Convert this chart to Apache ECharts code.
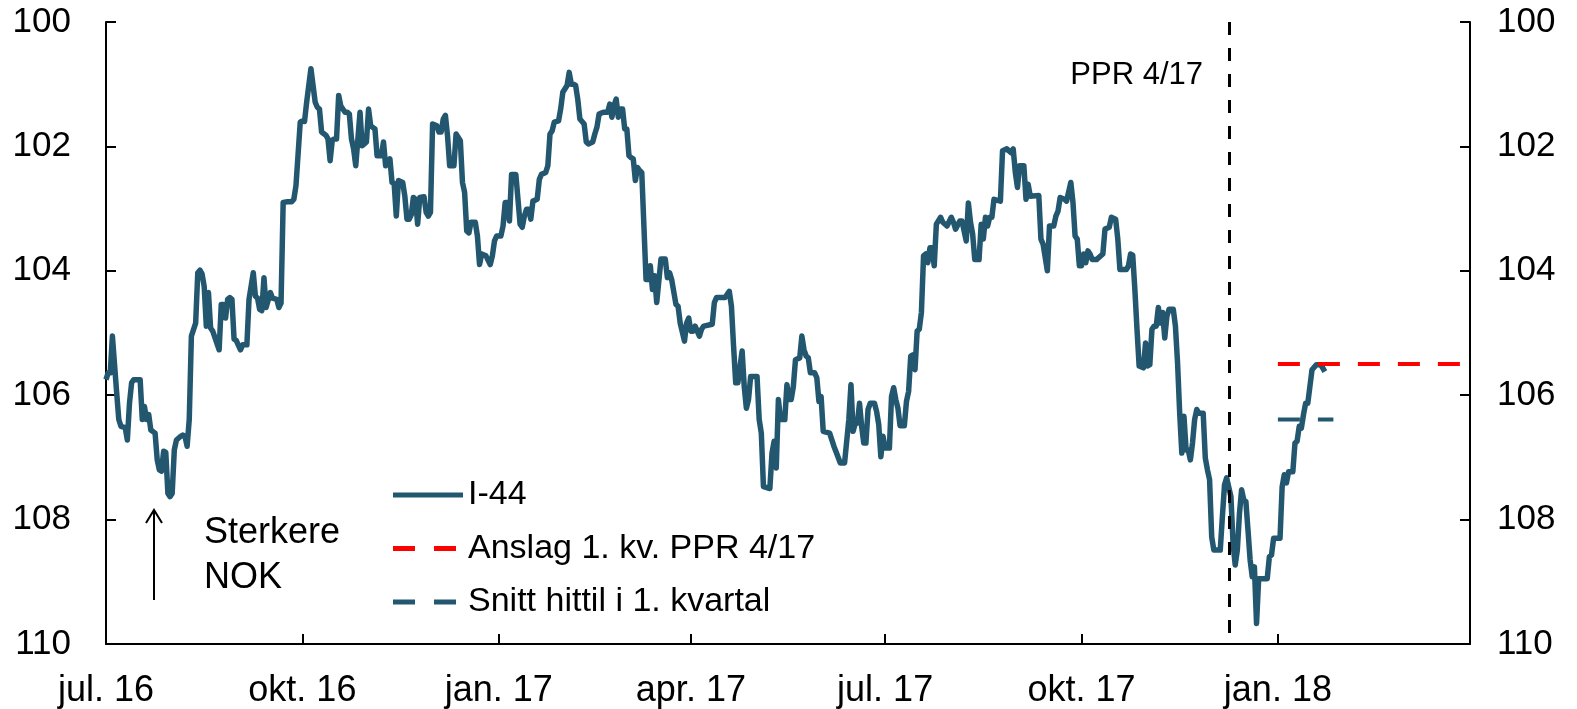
<!DOCTYPE html>
<html>
<head>
<meta charset="utf-8">
<script src="https://cdn.jsdelivr.net/npm/echarts@6/dist/echarts.min.js"></script>
<style>
  html, body { margin: 0; padding: 0; background: #fff; }
  #chart { width: 1577px; height: 709px; }
</style>
</head>
<body>
<div id="chart"></div>
<script>
// I-44 (one row per month)
var i44Months = ['2016-07', '2016-08', '2016-09', '2016-10', '2016-11', '2016-12',
  '2017-01', '2017-02', '2017-03', '2017-04', '2017-05', '2017-06',
  '2017-07', '2017-08', '2017-09', '2017-10', '2017-11', '2017-12', '2018-01'];
var i44Days = [
  [1,2,3,4,6,7,8,10,11,12,13,14,17,18,19,20,21,22,24,25,26,27,28,29,30,31],
  [1,2,3,5,6,7,8,9,10,12,13,14,15,16,17,18,19,20,23,24,25,26,27,28,29,30,31],
  [2,3,5,6,8,9,10,11,12,13,14,16,17,19,20,21,22,24,26,27,28,30],
  [1,2,3,5,6,7,8,9,10,12,13,14,15,16,17,18,19,21,22,23,24,25,26,28,29,30,31],
  [1,2,4,5,7,8,9,11,12,13,14,15,17,18,19,20,21,22,23,24,25,27,28,29,30],
  [1,3,4,5,6,7,8,9,11,12,14,15,16,17,18,19,21,22,23,24,26,28,29,30,31],
  [2,3,4,5,6,7,9,10,11,12,13,14,15,16,17,19,20,21,23,24,25,26,27,29,30,31],
  [2,3,4,5,6,7,8,10,11,12,14,15,16,17,19,21,22,23,24,25,26,27,28],
  [1,2,3,4,5,6,7,8,9,10,11,12,13,14,15,16,18,20,21,22,23,25,26,27,29,30,31],
  [1,2,3,5,6,7,11,12,13,17,19,20,21,22,23,25,26,27,28,29],
  [2,3,4,5,8,9,10,11,12,13,15,16,17,18,19,20,22,23,24,25,26,27,29,30,31],
  [1,2,5,7,8,10,12,14,15,16,17,18,19,20,21,22,23,24,26,27,28,29,30],
  [1,3,4,5,6,7,8,10,11,12,13,14,15,16,17,18,19,20,21,22,23,24,25,27,28,30],
  [1,2,3,5,6,8,9,10,11,12,14,15,16,17,18,19,20,21,24,25,27,29,30,31],
  [1,2,4,5,6,7,11,12,13,15,16,18,19,20,21,23,24,26,27,28,29,30],
  [1,2,3,4,5,6,8,11,12,14,15,17,18,19,22,23,24,25,26,27,28,30,31],
  [1,2,3,4,5,6,7,8,9,10,11,13,14,15,16,17,18,19,20,21,22,23,24,25,27,28,29,30],
  [1,2,5,6,7,8,10,11,12,13,14,15,16,17,18,19,20,21,22,23,27,28,29,30],
  [2,3,4,5,6,8,9,10,11,12,13,14,15,16,17,19,21,22,23]
];
var i44Values = [
  [105.75,105.64,105.64,105.05,105.96,106.39,106.50,106.52,106.72,106.13,105.80,105.75,105.75,106.39,106.18,106.39,106.31,106.56,106.61,107.04,107.20,107.22,106.90,106.92,107.58,107.63],
  [107.58,106.88,106.72,106.66,106.64,106.66,106.82,106.39,105.05,104.84,104.03,103.99,104.05,104.25,104.89,104.35,104.92,104.97,105.27,104.54,104.54,104.76,104.46,104.43,104.46,105.10,105.12],
  [105.27,105.19,105.19,104.46,104.03,104.41,104.44,104.62,104.64,104.11,104.59,104.35,104.44,104.46,104.59,104.52,102.90,102.89,102.89,102.85,102.63,101.61],
  [101.59,101.60,101.29,100.75,101.02,101.29,101.37,101.40,101.77,101.82,101.88,102.23,101.90,101.88,101.88,101.18,101.35,101.45,101.45,101.48,101.88,102.04,102.31,101.45,101.99,101.96,101.93],
  [101.40,101.67,101.72,102.15,102.15,101.93,102.31,102.20,102.58,102.60,103.12,102.55,102.58,102.80,103.17,103.17,103.10,102.82,102.85,103.25,102.82,102.81,103.06,103.12,103.06],
  [101.64,101.67,101.77,101.77,101.56,101.50,101.83,102.31,102.31,101.80,101.91,102.58,102.74,103.36,103.39,103.22,103.22,103.44,103.90,103.73,103.76,103.90,103.76,103.52,103.44],
  [103.44,103.28,102.90,102.90,103.20,102.45,102.45,102.85,103.25,103.30,103.12,103.01,103.01,103.17,102.88,102.85,102.53,102.45,102.42,102.31,101.80,101.75,101.61,101.59,101.40,101.13],
  [101.02,100.81,101.00,101.00,101.02,101.24,101.56,101.64,101.93,101.96,101.93,101.80,101.69,101.48,101.45,101.45,101.32,101.53,101.34,101.24,101.53,101.40,101.40],
  [101.72,101.72,102.15,102.18,102.20,102.55,102.34,102.39,102.42,103.28,104.14,104.14,103.92,104.30,104.08,104.51,103.81,103.81,104.11,104.03,104.14,104.54,104.57,104.84,105.13,104.84,104.76],
  [104.97,104.97,104.89,105.05,104.94,104.89,104.86,104.51,104.43,104.43,104.33,104.57,105.21,105.80,105.80,105.29,105.86,106.21,106.07,105.70],
  [105.70,106.39,106.61,107.47,107.50,106.93,106.74,107.17,106.07,106.39,106.39,105.83,106.07,106.07,105.86,105.43,105.40,105.05,105.27,105.37,105.40,105.64,105.64,105.72,106.10],
  [106.02,106.58,106.61,106.82,106.91,107.09,107.09,106.39,105.83,106.58,106.45,106.45,106.13,106.50,106.77,106.77,106.23,106.13,106.13,106.26,106.47,106.99,106.66],
  [106.85,106.85,106.02,105.88,106.07,106.21,106.49,106.49,106.10,105.94,105.37,105.35,105.59,104.97,104.94,104.67,103.76,103.73,103.87,103.63,103.63,103.92,103.25,103.14,103.22,103.28],
  [103.14,103.22,103.33,103.20,103.20,103.52,102.91,103.22,103.41,103.82,103.82,103.25,103.49,103.14,103.28,103.14,103.14,102.85,102.88,102.07,102.04,102.10,102.04,102.42],
  [102.66,102.31,102.31,102.85,102.61,102.80,102.79,103.49,103.57,104.00,103.28,103.28,103.12,103.04,102.82,102.85,102.88,102.58,102.90,103.44,103.49,103.92],
  [103.92,103.73,103.87,103.68,103.73,103.82,103.82,103.73,103.33,103.30,103.14,103.17,103.49,103.98,103.98,103.92,103.73,103.75,104.30,104.94,105.53,105.56,105.16],
  [105.53,105.51,104.94,104.89,104.89,104.59,104.84,104.67,105.08,104.73,104.62,104.62,104.89,105.48,106.29,106.93,106.34,106.88,106.88,107.04,106.77,106.39,106.23,106.29,106.29,107.01,107.20,107.36],
  [108.28,108.49,108.49,107.95,107.44,107.33,107.63,108.38,108.73,108.49,107.90,107.52,107.68,107.71,108.17,108.65,108.92,108.76,109.67,108.95,108.95,108.60,108.57,108.30],
  [108.30,107.47,107.28,107.41,107.23,107.23,106.77,106.74,106.50,106.53,106.31,106.13,106.13,105.86,105.59,105.51,105.51,105.56,105.62]
];

// Anslag 1. kv. PPR 4/17
var anslagDates = ['2018-01-01', '2018-04-01'];
var anslagValues = [105.5, 105.5];
// Snitt hittil i 1. kvartal
var snittDates = ['2018-01-01', '2018-01-27'];
var snittValues = [106.39, 106.39];

var pprDate = '2017-12-09';
var xStart = '2016-07-01';
var xEnd = '2018-04-01';
var tickDates = ['2016-07-01', '2016-10-01', '2017-01-01', '2017-04-01', '2017-07-01', '2017-10-01', '2018-01-01'];
var tickLabels = ['jul. 16', 'okt. 16', 'jan. 17', 'apr. 17', 'jul. 17', 'okt. 17', 'jan. 18'];

var FONT = '"Liberation Sans", Arial, sans-serif';
var BLUE = '#22576f';
// legend icons: solid bar and two dashes (the last zero-size piece keeps the width at 70)
var ICON_SOLID = 'path://M0,0H70V5H0Z';
var ICON_DASH = 'path://M0,0H22V5H0ZM41,0H63V5H41ZM70,0L70,0Z';

function toTime(s) {
  var p = s.split('-');
  return new Date(+p[0], +p[1] - 1, +p[2]).getTime();
}

function pairs(dates, values) {
  return dates.map(function (d, i) { return [toTime(d), values[i]]; });
}

var i44Data = [];
i44Months.forEach(function (m, k) {
  i44Days[k].forEach(function (day, j) {
    i44Data.push([toTime(m + '-' + (day < 10 ? '0' + day : day)), i44Values[k][j]]);
  });
});

var tickTimes = tickDates.map(toTime);

function yAxisOpt(pos, margin) {
  return {
    type: 'value',
    position: pos,
    inverse: true,
    min: 100,
    max: 110,
    interval: 2,
    axisLine: { show: true, onZero: false, lineStyle: { color: '#000', width: 2 } },
    axisTick: { show: true, inside: true, length: 10, lineStyle: { color: '#000', width: 2 } },
    axisLabel: { margin: margin, fontSize: 35, fontFamily: FONT, color: '#000' },
    splitLine: { show: false }
  };
}

var chart = echarts.init(document.getElementById('chart'));
chart.setOption({
  animation: false,
  backgroundColor: '#fff',
  grid: { left: 106, right: 107, top: 22, bottom: 64, containLabel: false },
  legend: {
    orient: 'vertical',
    left: 388,
    top: 473,
    itemWidth: 70,
    itemHeight: 5,
    itemGap: 19.5,
    textStyle: { fontSize: 34, fontFamily: FONT, color: '#000' },
    data: [
      { name: 'I-44', icon: ICON_SOLID },
      { name: 'Anslag 1. kv. PPR 4/17', icon: ICON_DASH },
      { name: 'Snitt hittil i 1. kvartal', icon: ICON_DASH }
    ]
  },
  // value axis holding timestamps, so the quarter ticks can be set directly
  xAxis: {
    type: 'value',
    min: toTime(xStart),
    max: toTime(xEnd),
    axisLine: { show: true, onZero: false, lineStyle: { color: '#000', width: 2 } },
    axisTick: { show: true, inside: true, length: 10, customValues: tickTimes, lineStyle: { color: '#000', width: 2 } },
    axisLabel: {
      customValues: tickTimes,
      margin: 29,
      fontSize: 36,
      fontFamily: FONT,
      color: '#000',
      formatter: function (v) {
        var i = tickTimes.indexOf(v);
        return i >= 0 ? tickLabels[i] : '';
      }
    },
    splitLine: { show: false }
  },
  yAxis: [yAxisOpt('left', 35), yAxisOpt('right', 27)],
  series: [
    {
      name: 'I-44',
      type: 'line',
      symbol: 'none',
      data: i44Data,
      lineStyle: { color: BLUE, width: 5.5, join: 'round' },
      itemStyle: { color: BLUE },
      z: 3,
      markLine: {
        silent: true,
        symbol: ['none', 'none'],
        label: { show: false },
        lineStyle: { color: '#000', type: [13, 13], width: 3 },
        data: [{ xAxis: toTime(pprDate) }]
      }
    },
    {
      name: 'Anslag 1. kv. PPR 4/17',
      type: 'line',
      symbol: 'none',
      data: pairs(anslagDates, anslagValues),
      lineStyle: { color: '#ff0000', width: 4, type: [22, 18] },
      itemStyle: { color: '#ff0000' }
    },
    {
      name: 'Snitt hittil i 1. kvartal',
      type: 'line',
      symbol: 'none',
      data: pairs(snittDates, snittValues),
      lineStyle: { color: BLUE, width: 4, type: [22, 18] },
      itemStyle: { color: BLUE }
    }
  ],
  graphic: [
    { type: 'text', x: 1203, y: 75, style: { text: 'PPR 4/17', font: '31px ' + FONT, fill: '#000', textAlign: 'right', textVerticalAlign: 'middle' } },
    { type: 'text', x: 204, y: 533, style: { text: 'Sterkere', font: '36px ' + FONT, fill: '#000', textVerticalAlign: 'middle' } },
    { type: 'text', x: 204, y: 578, style: { text: 'NOK', font: '36px ' + FONT, fill: '#000', textVerticalAlign: 'middle' } },
    // pil opp
    { type: 'line', shape: { x1: 154, y1: 600, x2: 154, y2: 511 }, style: { stroke: '#000', lineWidth: 2 } },
    { type: 'polyline', shape: { points: [[146, 523], [154, 510], [162, 523]] }, style: { stroke: '#000', lineWidth: 2, fill: null } }
  ]
});
</script>
</body>
</html>
